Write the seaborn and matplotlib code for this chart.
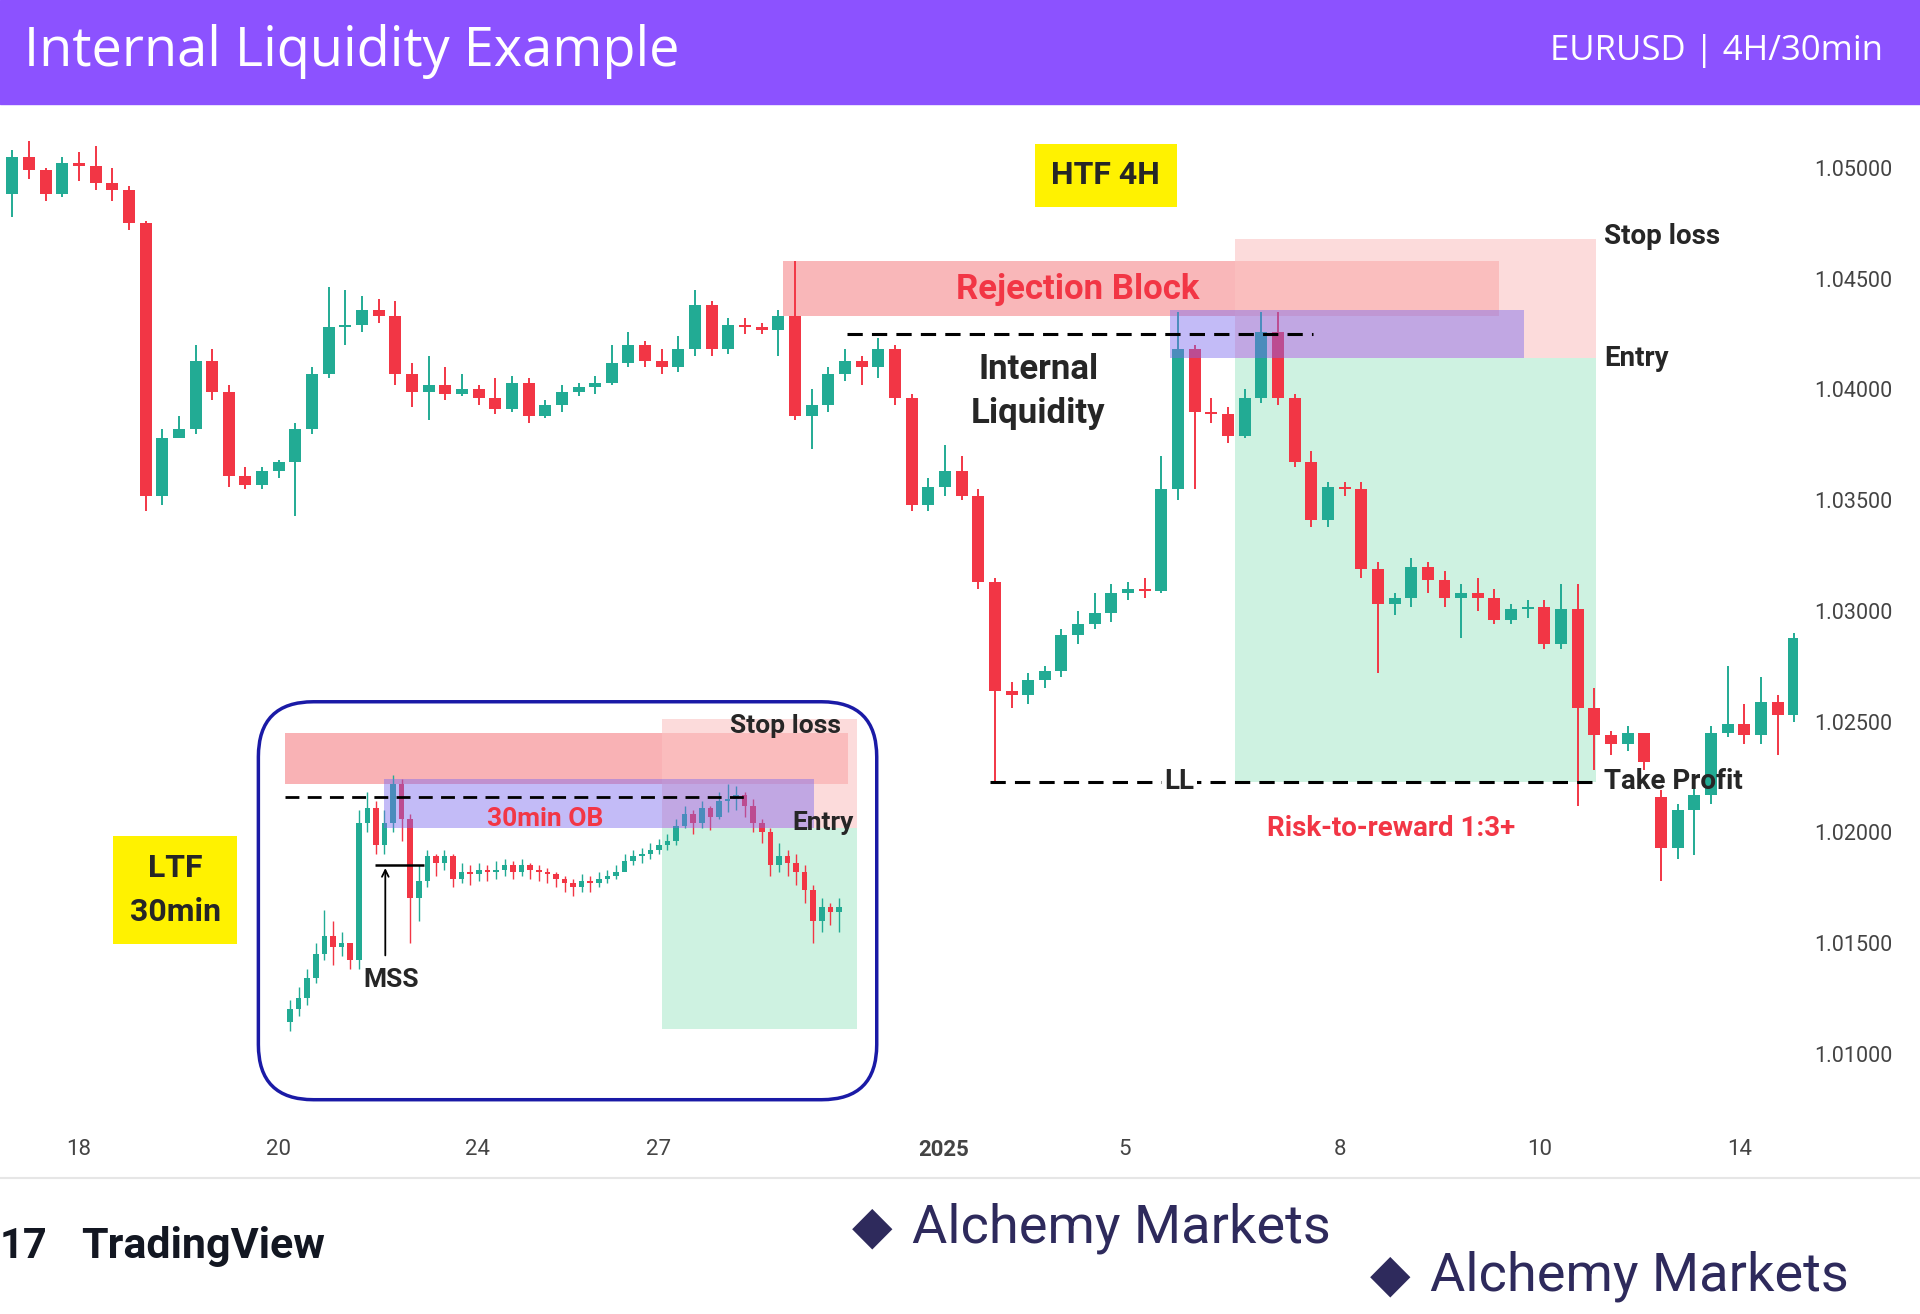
import numpy as np
import matplotlib
matplotlib.use("Agg")
import matplotlib.pyplot as plt
import seaborn as sns
from matplotlib.patches import Rectangle, FancyBboxPatch
from matplotlib.transforms import IdentityTransform

# ---- main 4H candles ----
first_open = 1.0488
closes = [1.0505, 1.0499, 1.0488, 1.0502, 1.0501, 1.0493, 1.0490, 1.0475, 1.0352, 1.0378,
          1.0382, 1.0413, 1.0399, 1.0361, 1.0357, 1.0363, 1.0367, 1.0382, 1.0407, 1.0428,
          1.0429, 1.0436, 1.0433, 1.0407, 1.0399, 1.0402, 1.0398, 1.0400, 1.0396, 1.0391,
          1.0403, 1.0388, 1.0393, 1.0399, 1.0401, 1.0403, 1.0412, 1.0420, 1.0413, 1.0410,
          1.0418, 1.0438, 1.0418, 1.0429, 1.0428, 1.0427, 1.0433, 1.0388, 1.0393, 1.0407,
          1.0413, 1.0410, 1.0418, 1.0396, 1.0348, 1.0356, 1.0363, 1.0352, 1.0313, 1.0264,
          1.0262, 1.0269, 1.0273, 1.0289, 1.0294, 1.0299, 1.0308, 1.0310, 1.0309, 1.0355,
          1.0418, 1.0390, 1.0389, 1.0379, 1.0396, 1.0426, 1.0396, 1.0367, 1.0341, 1.0356,
          1.0355, 1.0319, 1.0303, 1.0306, 1.0320, 1.0314, 1.0306, 1.0308, 1.0306, 1.0296,
          1.0301, 1.0302, 1.0285, 1.0301, 1.0256, 1.0244, 1.0240, 1.0245, 1.0232, 1.0193,
          1.0210, 1.0217, 1.0245, 1.0249, 1.0244, 1.0259, 1.0253, 1.0288]
highs = [1.0508, 1.0512, 1.0500, 1.0505, 1.0507, 1.0510, 1.0500, 1.0492, 1.0476, 1.0382,
         1.0388, 1.0420, 1.0418, 1.0402, 1.0365, 1.0365, 1.0368, 1.0385, 1.0410, 1.0446,
         1.0445, 1.0442, 1.0441, 1.0440, 1.0412, 1.0415, 1.0410, 1.0407, 1.0402, 1.0405,
         1.0406, 1.0405, 1.0395, 1.0402, 1.0403, 1.0406, 1.0420, 1.0426, 1.0422, 1.0418,
         1.0424, 1.0445, 1.0440, 1.0432, 1.0432, 1.0430, 1.0436, 1.0458, 1.0400, 1.0410,
         1.0418, 1.0415, 1.0423, 1.0420, 1.0398, 1.0360, 1.0375, 1.0370, 1.0355, 1.0315,
         1.0268, 1.0272, 1.0275, 1.0292, 1.0300, 1.0308, 1.0312, 1.0313, 1.0315, 1.0370,
         1.0435, 1.0420, 1.0396, 1.0392, 1.0400, 1.0435, 1.0435, 1.0398, 1.0372, 1.0358,
         1.0358, 1.0358, 1.0322, 1.0308, 1.0324, 1.0322, 1.0318, 1.0312, 1.0315, 1.0310,
         1.0303, 1.0305, 1.0305, 1.0312, 1.0312, 1.0265, 1.0246, 1.0248, 1.0245, 1.0219,
         1.0213, 1.0222, 1.0248, 1.0275, 1.0258, 1.0270, 1.0262, 1.0290]
lows = [1.0478, 1.0495, 1.0485, 1.0487, 1.0494, 1.0490, 1.0485, 1.0472, 1.0345, 1.0348,
        1.0378, 1.0380, 1.0395, 1.0356, 1.0355, 1.0355, 1.0360, 1.0343, 1.0380, 1.0405,
        1.0420, 1.0426, 1.0430, 1.0402, 1.0392, 1.0386, 1.0395, 1.0397, 1.0393, 1.0389,
        1.0390, 1.0385, 1.0387, 1.0390, 1.0397, 1.0398, 1.0402, 1.0410, 1.0410, 1.0407,
        1.0408, 1.0415, 1.0415, 1.0416, 1.0425, 1.0425, 1.0415, 1.0386, 1.0373, 1.0390,
        1.0404, 1.0402, 1.0405, 1.0393, 1.0345, 1.0345, 1.0352, 1.0350, 1.0310, 1.0223,
        1.0256, 1.0258, 1.0265, 1.0270, 1.0285, 1.0292, 1.0295, 1.0305, 1.0306, 1.0308,
        1.0350, 1.0355, 1.0385, 1.0376, 1.0378, 1.0394, 1.0393, 1.0365, 1.0338, 1.0338,
        1.0352, 1.0315, 1.0272, 1.0298, 1.0302, 1.0308, 1.0302, 1.0288, 1.0300, 1.0294,
        1.0294, 1.0297, 1.0283, 1.0283, 1.0212, 1.0228, 1.0235, 1.0237, 1.0228, 1.0178,
        1.0188, 1.0190, 1.0213, 1.0243, 1.0240, 1.0240, 1.0235, 1.0250]
gap_opens = {99: 1.0216}  # weekend gap

date_labels = ["18", "20", "24", "27", "2025", "5", "8", "10", "14"]
date_pos = [4.0, 16.0, 27.9, 38.8, 55.9, 66.8, 79.7, 91.7, 103.7]
price_ticks = [1.050, 1.045, 1.040, 1.035, 1.030, 1.025, 1.020, 1.015, 1.010]

# ---- LTF 30min inset candles ----
in_first_open = 1.0114
in_closes = [1.0120, 1.0125, 1.0134, 1.0145, 1.0153, 1.0148, 1.0150, 1.0142, 1.0204, 1.0211,
             1.0194, 1.0204, 1.0222, 1.0206, 1.0170, 1.0178, 1.0189, 1.0186, 1.0189, 1.0179,
             1.0182, 1.0181, 1.0183, 1.0182, 1.0183, 1.0185, 1.0182, 1.0185, 1.0183, 1.0182,
             1.0181, 1.0179, 1.0177, 1.0175, 1.0178, 1.0177, 1.0179, 1.0180, 1.0182, 1.0187,
             1.0189, 1.0190, 1.0192, 1.0194, 1.0196, 1.0203, 1.0208, 1.0204, 1.0211, 1.0207,
             1.0214, 1.0215, 1.0217, 1.0212, 1.0204, 1.0200, 1.0185, 1.0189, 1.0186, 1.0182,
             1.0174, 1.0160, 1.0166, 1.0164, 1.0166]
in_highs = [1.0124, 1.0130, 1.0138, 1.0150, 1.0165, 1.0160, 1.0155, 1.0150, 1.0210, 1.0218,
            1.0214, 1.0210, 1.0226, 1.0224, 1.0208, 1.0185, 1.0192, 1.0190, 1.0192, 1.0190,
            1.0186, 1.0185, 1.0186, 1.0185, 1.0187, 1.0188, 1.0187, 1.0188, 1.0186, 1.0185,
            1.0184, 1.0182, 1.0180, 1.0179, 1.0181, 1.0180, 1.0182, 1.0183, 1.0185, 1.0190,
            1.0192, 1.0193, 1.0195, 1.0197, 1.0199, 1.0206, 1.0212, 1.0210, 1.0214, 1.0212,
            1.0218, 1.0222, 1.0221, 1.0218, 1.0215, 1.0206, 1.0202, 1.0195, 1.0192, 1.0190,
            1.0185, 1.0176, 1.0170, 1.0168, 1.0170]
in_lows = [1.0110, 1.0117, 1.0122, 1.0132, 1.0142, 1.0140, 1.0144, 1.0138, 1.0138, 1.0200,
           1.0190, 1.0190, 1.0200, 1.0196, 1.0150, 1.0160, 1.0175, 1.0180, 1.0183, 1.0175,
           1.0177, 1.0176, 1.0178, 1.0178, 1.0179, 1.0180, 1.0179, 1.0180, 1.0179, 1.0178,
           1.0177, 1.0175, 1.0173, 1.0171, 1.0173, 1.0173, 1.0175, 1.0177, 1.0179, 1.0183,
           1.0185, 1.0186, 1.0188, 1.0190, 1.0192, 1.0194, 1.0202, 1.0199, 1.0202, 1.0201,
           1.0206, 1.0209, 1.0210, 1.0207, 1.0200, 1.0195, 1.0180, 1.0182, 1.0180, 1.0176,
           1.0168, 1.0150, 1.0155, 1.0158, 1.0155]

GREEN = "#22ab94"
RED = "#f23645"
PURPLE = "#8c52ff"
NAVY = "#2e2a5c"

sns.set_theme(style="white")
plt.rcParams['font.family'] = ['Roboto', 'DejaVu Sans']

W, H = 1568, 1073
fig = plt.figure(figsize=(19.2, 13.14), dpi=100)
fig.patch.set_facecolor("white")


def fx(x):
    return x / W


def fy(y):
    return 1 - y / H


def draw_candles(ax, o0, cl, hi, lo, width, lw, gaps=None):
    opens = [o0] + cl[:-1]
    if gaps:
        for k, v in gaps.items():
            opens[k] = v
    x = np.arange(len(cl))
    cols = [GREEN if c >= o else RED for o, c in zip(opens, cl)]
    ax.vlines(x, lo, hi, colors=cols, lw=lw, zorder=3)
    bottoms = [min(o, c) for o, c in zip(opens, cl)]
    heights = [max(abs(c - o), 0.00008) for o, c in zip(opens, cl)]
    ax.bar(x, heights, bottom=bottoms, width=width, color=cols, zorder=3, linewidth=0)


# ---- main axes ----
ax = fig.add_axes([0, fy(915), fx(1468), fy(90) - fy(915)])
ax.set_xlim(-0.74, 107.2)
ax.set_ylim(1.0070, 1.0526)
draw_candles(ax, first_open, closes, highs, lows, 0.72, 1.4, gap_opens)
for s in ax.spines.values():
    s.set_visible(False)
ax.yaxis.tick_right()
ax.set_yticks(price_ticks)
ax.set_yticklabels([f"{p:.5f}" for p in price_ticks], fontsize=15.5, color="#444444")
ax.tick_params(axis="y", length=0, pad=12)
ax.set_xticks(date_pos)
ax.set_xticklabels(date_labels, fontsize=16, color="#444444")
for t in ax.get_xticklabels():
    if t.get_text() == "2025":
        t.set_fontweight("bold")
ax.tick_params(axis="x", length=0, pad=13)

# zones
ax.add_patch(Rectangle((46.3, 1.0433), 43.0, 0.0025, color="#f8a5a8", alpha=0.8, zorder=2, lw=0))
ax.add_patch(Rectangle((73.4, 1.0414), 21.7, 0.0054, color="#fbc3c3", alpha=0.6, zorder=2, lw=0))
ax.add_patch(Rectangle((69.5, 1.0414), 21.3, 0.0022, color="#7b68ee", alpha=0.45, zorder=4, lw=0))
ax.add_patch(Rectangle((73.4, 1.0223), 21.7, 0.0191, color="#c6f0dc", alpha=0.85, zorder=1, lw=0))
ax.hlines(1.0425, 50.1, 78.1, colors="black", linestyles=(0, (5, 3)), lw=2.2, zorder=5)
ax.hlines(1.0223, 58.7, 94.9, colors="black", linestyles=(0, (5, 3)), lw=2.2, zorder=5)
ax.text(70.1, 1.0223, "LL", fontsize=20, fontweight="bold", ha="center", va="center",
        bbox=dict(fc="white", ec="none", pad=2), zorder=6)
ax.text(64.0, 1.0445, "Rejection Block", fontsize=25, fontweight="bold", color=RED,
        ha="center", va="center", zorder=6)
ax.text(61.6, 1.0399, "Internal\nLiquidity", fontsize=25, fontweight="bold", ha="center",
        va="center", linespacing=1.45, zorder=6)
ax.text(95.6, 1.0469, "Stop loss", fontsize=20, fontweight="bold", va="center", zorder=6)
ax.text(95.6, 1.0414, "Entry", fontsize=20, fontweight="bold", va="center", zorder=6)
ax.text(95.6, 1.0223, "Take Profit", fontsize=20, fontweight="bold", va="center", zorder=6)
ax.text(82.8, 1.0202, "Risk-to-reward 1:3+", fontsize=20, fontweight="bold", color=RED,
        ha="center", va="center", zorder=6)

# ---- inset LTF ----
ix = fig.add_axes([fx(211), fy(898), fx(716) - fx(211), fy(573) - fy(898)])
ix.set_xlim(-3.7, 68.4)
ix.set_ylim(1.0079, 1.0259)
ix.patch.set_alpha(0)
ix.axis("off")
draw_candles(ix, in_first_open, in_closes, in_highs, in_lows, 0.65, 1.0)
ix.add_patch(Rectangle((-0.6, 1.0222), 65.6, 0.0023, color="#f8a5a8", alpha=0.85, zorder=2, lw=0))
ix.add_patch(Rectangle((43.4, 1.0202), 22.7, 0.0049, color="#fbc3c3", alpha=0.6, zorder=2, lw=0))
ix.add_patch(Rectangle((10.9, 1.0202), 50.2, 0.0022, color="#7b68ee", alpha=0.45, zorder=4, lw=0))
ix.add_patch(Rectangle((43.4, 1.0111), 22.7, 0.0091, color="#c6f0dc", alpha=0.85, zorder=1, lw=0))
ix.hlines(1.0216, -0.6, 53.7, colors="black", linestyles=(0, (5, 3)), lw=2, zorder=5)
ix.hlines(1.0185, 9.9, 15.6, colors="black", lw=1.8, zorder=5)
ix.annotate("", xy=(11.1, 1.0185), xytext=(11.1, 1.0143),
            arrowprops=dict(arrowstyle="->", lw=1.3, color="black"), zorder=6)
ix.text(11.8, 1.0133, "MSS", fontsize=19, fontweight="bold", ha="center", va="center", zorder=6)
ix.text(29.7, 1.0206, "30min OB", fontsize=19, fontweight="bold", color=RED, ha="center",
        va="center", zorder=6)
ix.text(57.8, 1.0248, "Stop loss", fontsize=19, fontweight="bold", ha="center", va="center", zorder=6)
ix.text(62.1, 1.0204, "Entry", fontsize=19, fontweight="bold", ha="center", va="center", zorder=6)

s = 1920 / W
box = FancyBboxPatch((211 * s, (H - 898) * s), 505 * s, 325 * s,
                     boxstyle=f"round,pad=0,rounding_size={45 * s}",
                     transform=IdentityTransform(), fc="none", ec="#1a1aa6", lw=2.5, zorder=10)
fig.patches.append(box)

# yellow labels
fig.text(fx(903), fy(143), "HTF 4H", fontsize=23, fontweight="bold", ha="center", va="center",
         bbox=dict(fc="#fff200", ec="none", pad=12))
fig.text(fx(143), fy(727), "LTF\n30min", fontsize=23, fontweight="bold", ha="center", va="center",
         linespacing=1.6, bbox=dict(fc="#fff200", ec="none", pad=12))

# header
fig.patches.append(Rectangle((0, fy(85)), 1, 1 - fy(85), transform=fig.transFigure,
                             color=PURPLE, zorder=0))
fig.text(fx(20), fy(42), "Internal Liquidity Example", fontsize=39, color="white",
         va="center", family=["Open Sans", "DejaVu Sans"])
fig.text(fx(1538), fy(42), "EURUSD | 4H/30min", fontsize=25, color="white", ha="right",
         va="center", family=["Open Sans", "DejaVu Sans"])

# footer
fig.add_artist(plt.Line2D([0, 1], [fy(962), fy(962)], color="#e6e6e6", lw=1.5,
                          transform=fig.transFigure))
fig.text(fx(0), fy(1018), "17", fontsize=30, fontweight="bold", color="#131722", va="center")
fig.text(fx(66), fy(1018), "TradingView", fontsize=31, fontweight="bold", color="#131722",
         va="center")
fig.text(fx(745), fy(1003), "Alchemy Markets", fontsize=39, color=NAVY, va="center")
fig.text(fx(712), fy(1003), "\u25C6", fontsize=38, color=NAVY, ha="center", va="center")
fig.text(fx(1168), fy(1042), "Alchemy Markets", fontsize=39, color=NAVY, va="center")
fig.text(fx(1135), fy(1042), "\u25C6", fontsize=38, color=NAVY, ha="center", va="center")

fig.savefig("out.png", dpi=100)
